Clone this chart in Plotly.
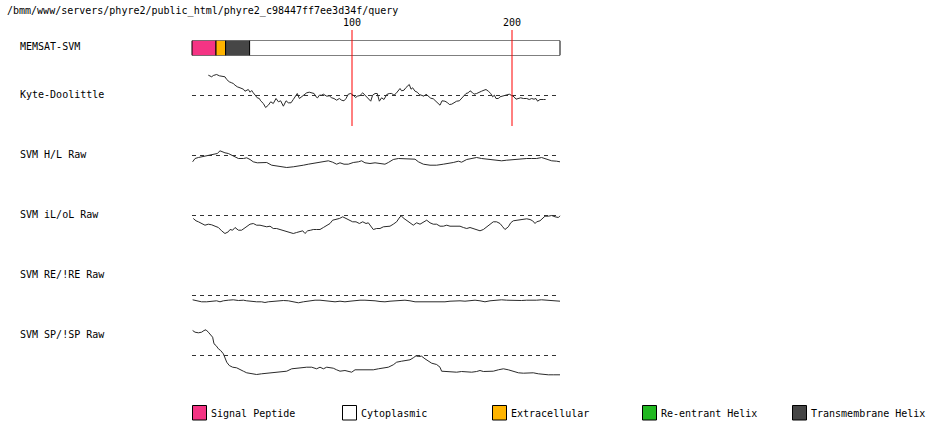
import plotly.graph_objects as go

W, H = 950, 435
SEQ_LEN = 230

title_text = "/bmm/www/servers/phyre2/public_html/phyre2_c98447ff7ee3d34f/query"
track_labels = ["MEMSAT-SVM", "Kyte-Doolittle", "SVM H/L Raw", "SVM iL/oL Raw", "SVM RE/!RE Raw", "SVM SP/!SP Raw"]

# MEMSAT-SVM topology segments (residue start, end, type)
seg_start = [0, 15, 21, 36]
seg_end = [15, 21, 36, 230]
seg_type = ["Signal Peptide", "Extracellular", "Transmembrane Helix", "Cytoplasmic"]

legend_names = ["Signal Peptide", "Cytoplasmic", "Extracellular", "Re-entrant Helix", "Transmembrane Helix"]
type_colors = {
    "Signal Peptide": "#F43484",
    "Cytoplasmic": "#FFFFFF",
    "Extracellular": "#FFB400",
    "Re-entrant Helix": "#22B822",
    "Transmembrane Helix": "#464646",
}

marker_ticks = [100, 200]

# Kyte-Doolittle hydropathy (window averaged)
kd_res = [10.2, 12.3, 13.3, 15.4, 17.1, 19.6, 20.6, 21.7, 23.3, 24.8, 25.8, 26.9, 28.3, 30.0, 32.1, 33.1, 35.2, 36.3, 37.3, 38.3,
          39.4, 40.8, 42.1, 42.9, 44.6, 46.0, 47.7, 49.2, 50.8, 52.5, 54.0, 55.4, 57.1, 58.8, 60.2, 61.9, 63.3, 64.8, 65.8, 67.1,
          68.5, 70.0, 71.7, 73.3, 74.8, 76.3, 77.5, 78.5, 79.6, 81.0, 82.1, 84.2, 85.8, 87.3, 88.75, 90.4, 92.1, 93.5, 95.0, 96.25,
          97.7, 99.2, 100.8, 102.3, 103.3, 105.0, 106.7, 108.1, 109.2, 110.4, 111.7, 112.9, 114.4, 115.8, 117.1, 118.5, 120.0, 121.7, 123.3, 124.8,
          126.25, 127.5, 129.0, 130.0, 131.0, 132.5, 133.75, 135.8, 136.9, 137.9, 139.4, 140.8, 142.1, 143.5, 145.0, 146.25, 147.7, 149.2, 150.8, 152.5,
          154.0, 155.0, 156.25, 158.1, 159.8, 160.8, 162.3, 164.0, 165.4, 167.1, 168.5, 170.0, 171.25, 172.7, 173.75, 175.0, 176.25, 177.9, 179.6, 181.0,
          182.5, 183.75, 185.2, 186.7, 187.9, 189.0, 190.0, 191.5, 192.5, 193.75, 195.0, 196.7, 198.3, 199.8, 201.25, 202.5, 204.0, 205.4, 207.1, 209.2,
          210.8, 212.3, 213.75, 215.0, 216.0, 217.5, 219.6, 221.0]
kd_val = [2.03, 1.87, 2.0, 2.1, 1.97, 1.93, 1.87, 1.6, 1.37, 1.27, 1.2, 1.03, 0.87, 0.77, 0.63, 0.43, 0.6, 0.33, 0.5, 0.27,
          0.03, -0.23, -0.3, -0.53, -0.8, -1.2, -0.97, -0.63, -0.8, -0.3, -0.63, -0.53, -1.07, -0.53, -0.73, -0.73, -0.4, 0.03, 0.2, -0.3,
          -0.13, 0.13, 0.27, 0.33, 0.27, 0.2, -0.13, -0.23, 0.03, 0.03, 0.13, -0.07, -0.03, -0.23, -0.3, -0.47, -0.3, -0.47, -0.53, -0.3,
          0.13, 0.2, 0.03, -0.2, -0.07, 0.0, 0.27, 0.03, -0.13, -0.37, -0.57, 0.03, 0.2, 0.2, -0.57, -0.23, -0.4, 0.1, 0.2, 0.2,
          0.03, 0.2, 0.53, 0.7, 0.47, 0.53, 0.8, 1.1, 0.63, 0.77, 0.43, 0.33, 0.1, 0.03, -0.07, 0.13, -0.03, -0.27, -0.33, -0.57,
          -0.73, -0.97, -0.53, -0.57, -0.73, -0.9, -0.87, -0.73, -0.57, -0.53, -0.3, -0.07, 0.2, 0.27, 0.47, 0.33, 0.13, 0.2, 0.37, 0.43,
          0.53, 0.6, 0.43, 0.2, -0.13, 0.03, -0.3, -0.3, -0.13, -0.07, 0.0, 0.1, 0.13, 0.0, -0.13, -0.37, -0.3, -0.23, -0.3, -0.3,
          -0.4, -0.3, -0.37, -0.3, -0.57, -0.4, -0.4, -0.4]

# SVM H/L raw
hl_res = [0.4, 1.9, 4.0, 6.0, 8.1, 10.2, 12.3, 14.4, 15.8, 17.5, 19.2, 20.6, 22.7, 24.8, 26.9, 29.0, 32.1, 34.2, 36.25, 38.3,
          40.8, 43.5, 46.7, 49.8, 52.9, 56.0, 59.2, 63.3, 66.5, 69.6, 72.7, 75.8, 79.0, 82.1, 85.2, 87.9, 90.4, 92.5, 95.0, 97.7,
          100.8, 104.0, 106.0, 108.1, 111.25, 114.4, 117.5, 120.6, 122.7, 125.8, 129.0, 132.1, 136.25, 139.4, 141.5, 144.6, 148.75, 152.9, 157.1, 160.2,
          163.3, 166.5, 168.5, 171.7, 174.8, 177.9, 181.0, 184.2, 187.3, 190.4, 193.5, 196.7, 200.8, 205.0, 209.2, 212.3, 215.4, 218.5, 220.6, 222.7,
          224.8, 227.9, 230.0]
hl_val = [-0.63, -0.3, -0.2, -0.13, -0.03, 0.03, 0.07, 0.13, 0.2, 0.47, 0.33, 0.27, 0.2, 0.03, -0.07, -0.3, -0.3, -0.23, -0.4, -0.63,
          -0.73, -0.73, -0.7, -0.97, -1.07, -1.13, -1.2, -1.13, -1.07, -0.97, -0.87, -0.8, -0.7, -0.63, -0.53, -0.67, -0.87, -0.73, -0.87, -0.87,
          -0.7, -0.63, -0.53, -0.73, -0.8, -0.73, -0.8, -0.87, -0.7, -0.4, -0.3, -0.3, -0.3, -0.37, -0.63, -0.87, -0.97, -0.97, -0.87, -0.8,
          -0.7, -0.57, -0.67, -0.4, -0.3, -0.2, -0.3, -0.37, -0.47, -0.53, -0.53, -0.47, -0.4, -0.4, -0.3, -0.3, -0.3, -0.2, -0.3, -0.4,
          -0.53, -0.57, -0.63]

# SVM iL/oL raw
io_res = [0.8, 2.5, 4.0, 6.0, 8.1, 10.2, 12.3, 14.4, 16.5, 18.5, 20.6, 22.7, 23.75, 25.4, 26.9, 29.0, 31.0, 32.5, 34.2, 36.25,
          38.3, 40.4, 42.5, 44.6, 46.7, 48.75, 50.8, 52.9, 55.0, 57.1, 59.2, 61.25, 63.3, 65.4, 67.5, 69.2, 70.6, 72.3, 74.2, 75.8,
          77.9, 80.0, 82.1, 84.2, 86.25, 87.9, 90.0, 92.1, 94.2, 96.25, 98.3, 100.4, 102.5, 104.6, 106.7, 108.75, 110.2, 111.7, 113.3, 115.4,
          117.5, 119.6, 121.7, 123.75, 125.8, 127.9, 130.0, 131.0, 132.5, 134.2, 136.25, 138.3, 140.4, 142.5, 144.6, 146.7, 148.75, 150.8, 152.9, 155.0,
          157.1, 159.2, 161.25, 163.3, 165.4, 167.5, 169.6, 171.7, 173.75, 175.8, 177.9, 180.0, 182.1, 184.2, 186.25, 188.3, 190.4, 192.5, 194.2, 195.6,
          197.7, 199.2, 200.8, 202.9, 205.0, 207.1, 209.2, 211.25, 212.9, 214.4, 215.4, 217.5, 219.2, 220.6, 222.7, 224.8, 226.9, 229.0, 230.0]
io_val = [-0.3, -0.53, -0.63, -0.8, -0.97, -0.87, -0.93, -1.07, -1.2, -1.53, -1.8, -1.63, -1.4, -1.47, -1.2, -1.47, -1.47, -1.3, -1.13, -0.87,
          -0.8, -0.97, -0.97, -1.07, -1.13, -1.07, -1.3, -1.3, -1.4, -1.47, -1.53, -1.63, -1.8, -1.7, -1.63, -1.53, -1.8, -1.53, -1.47, -1.4,
          -1.4, -1.4, -1.2, -0.97, -0.8, -0.47, -0.4, -0.3, -0.13, -0.3, -0.47, -0.63, -0.63, -0.8, -0.63, -0.8, -0.73, -1.07, -1.4, -1.3,
          -1.3, -1.13, -1.07, -1.07, -0.87, -0.63, -0.13, -0.07, -0.3, -0.53, -0.73, -0.97, -0.73, -0.87, -0.63, -0.47, -0.73, -0.87, -0.87, -1.07,
          -1.07, -0.97, -1.07, -1.07, -1.13, -1.07, -1.2, -1.3, -1.2, -1.3, -1.4, -1.53, -1.4, -1.13, -0.8, -0.63, -0.63, -0.8, -1.13, -1.4,
          -1.13, -0.73, -0.53, -0.47, -0.4, -0.4, -0.33, -0.4, -0.53, -0.8, -0.63, -0.53, -0.3, -0.07, -0.07, 0.0, -0.13, -0.2, -0.03]

# SVM RE/!RE raw
re_res = [0.4, 2.9, 6.0, 9.2, 12.3, 15.4, 17.5, 19.6, 22.7, 25.8, 29.0, 32.1, 34.2, 37.3, 40.4, 43.5, 45.6, 47.7, 50.8, 54.0,
          57.1, 60.2, 63.3, 66.5, 69.6, 72.7, 74.8, 76.9, 80.0, 83.1, 86.25, 89.4, 92.5, 95.6, 98.75, 101.9, 105.0, 108.1, 111.25, 114.4,
          117.5, 120.6, 123.75, 126.9, 130.0, 133.1, 136.25, 139.4, 142.5, 145.6, 148.75, 151.9, 155.0, 158.1, 161.25, 164.4, 167.5, 170.6, 173.75, 176.9,
          180.0, 183.1, 186.25, 189.4, 191.5, 193.5, 196.7, 199.8, 202.9, 206.0, 209.2, 212.3, 215.4, 218.5, 221.7, 224.8, 227.9, 230.0]
re_val = [-0.43, -0.53, -0.63, -0.63, -0.57, -0.53, -0.63, -0.53, -0.47, -0.43, -0.5, -0.47, -0.53, -0.6, -0.63, -0.63, -0.7, -0.63, -0.57, -0.5,
          -0.5, -0.53, -0.63, -0.73, -0.63, -0.53, -0.5, -0.47, -0.47, -0.53, -0.57, -0.63, -0.57, -0.63, -0.57, -0.5, -0.47, -0.47, -0.47, -0.53,
          -0.6, -0.63, -0.57, -0.53, -0.5, -0.47, -0.53, -0.63, -0.63, -0.63, -0.63, -0.63, -0.7, -0.63, -0.57, -0.53, -0.53, -0.57, -0.5, -0.47,
          -0.53, -0.63, -0.53, -0.47, -0.4, -0.43, -0.47, -0.5, -0.53, -0.5, -0.47, -0.5, -0.47, -0.43, -0.47, -0.5, -0.57, -0.57]

# SVM SP/!SP raw
sp_res = [0.4, 1.9, 4.0, 6.0, 7.5, 8.75, 10.2, 11.7, 12.9, 13.75, 15.0, 16.5, 17.9, 19.6, 20.6, 21.7, 23.3, 25.4, 27.9, 30.0,
          32.1, 34.2, 37.3, 40.4, 43.5, 46.7, 49.8, 52.9, 56.0, 59.2, 62.3, 65.4, 68.5, 71.7, 74.8, 77.9, 80.0, 82.1, 84.2, 86.25,
          88.3, 90.4, 92.5, 95.6, 97.7, 99.8, 101.9, 104.0, 107.1, 110.2, 113.3, 116.5, 119.6, 122.7, 125.8, 127.9, 131.0, 134.2, 136.25, 138.3,
          140.0, 141.5, 143.5, 145.6, 147.7, 149.8, 152.9, 155.0, 156.0, 159.2, 162.3, 165.4, 168.5, 171.7, 174.8, 177.9, 180.0, 182.1, 185.2, 188.3,
          191.5, 194.6, 197.7, 200.8, 204.0, 207.1, 210.2, 213.3, 216.5, 219.6, 222.7, 225.8, 230.0]
sp_val = [2.5, 2.33, 2.27, 2.33, 2.5, 2.57, 2.33, 2.1, 1.83, 1.17, 1.0, 0.67, 0.5, 0.17, -0.17, -0.67, -1.0, -1.17, -1.23, -1.43,
          -1.57, -1.73, -1.83, -1.9, -1.83, -1.77, -1.73, -1.67, -1.67, -1.57, -1.33, -1.27, -1.23, -1.17, -1.17, -1.33, -1.17, -1.33, -1.17, -1.23,
          -1.27, -1.43, -1.57, -1.5, -1.57, -1.67, -1.43, -1.43, -1.4, -1.43, -1.43, -1.33, -1.23, -1.17, -0.93, -0.67, -0.57, -0.5, -0.43, -0.23,
          -0.03, -0.1, -0.07, -0.33, -0.57, -0.77, -0.9, -1.17, -1.57, -1.6, -1.67, -1.67, -1.6, -1.67, -1.67, -1.6, -1.5, -1.6, -1.57, -1.57,
          -1.43, -1.33, -1.43, -1.57, -1.73, -1.77, -1.77, -1.73, -1.83, -1.9, -1.93, -1.93, -1.93]

# ---------------- layout helpers (pixel -> paper) ----------------
X0_PX, PX_PER_RES = 192.0, 1.6


def px(x):
    return x / W


def py(y):
    return 1 - y / H


def dom(top, bottom):
    return [1 - bottom / H, 1 - top / H]


FONT = "DejaVu Sans Mono, Liberation Mono, monospace"
TXT = dict(family=FONT, size=10, color="black")
LINE_COLOR = "#2a2a2a"

fig = go.Figure()

# MEMSAT-SVM bar
for s, e, t in zip(seg_start, seg_end, seg_type):
    fig.add_trace(go.Bar(
        x=[e - s], base=[s], y=[0], orientation="h", width=1,
        marker=dict(color=type_colors[t], line=dict(color="black", width=1)),
        xaxis="x", yaxis="y", showlegend=False, hoverinfo="skip"))

# tracks: (res, val, axis, baseline pixel)
tracks = [
    (kd_res, kd_val, "y2", 95.5),
    (hl_res, hl_val, "y3", 155.5),
    (io_res, io_val, "y4", 215.5),
    (re_res, re_val, "y5", 295.5),
    (sp_res, sp_val, "y6", 355.5),
]
for res, val, ax, base in tracks:
    fig.add_trace(go.Scatter(
        x=[0, SEQ_LEN], y=[0, 0], mode="lines", xaxis="x", yaxis=ax,
        line=dict(color="#333333", width=1, dash="4px,4px"),
        showlegend=False, hoverinfo="skip"))
    fig.add_trace(go.Scatter(
        x=res, y=val, mode="lines", xaxis="x", yaxis=ax,
        line=dict(color=LINE_COLOR, width=1),
        showlegend=False, hoverinfo="skip"))

x_left = -X0_PX / PX_PER_RES
x_right = (W - X0_PX) / PX_PER_RES

layout = dict(
    width=W, height=H,
    margin=dict(l=0, r=0, t=0, b=0),
    paper_bgcolor="white", plot_bgcolor="white",
    barmode="overlay",
    font=TXT,
    xaxis=dict(range=[x_left, x_right], visible=False, fixedrange=True, domain=[0, 1]),
    yaxis=dict(range=[-0.5, 0.5], domain=dom(40.5, 55.5), visible=False, fixedrange=True, anchor="x"),
)
for i, (res, val, ax, base) in enumerate(tracks):
    key = "yaxis" + ax[1:]
    layout[key] = dict(range=[-3, 3], domain=dom(base - 30, base + 30), visible=False,
                       fixedrange=True, anchor="x")
fig.update_layout(**layout)

shapes = []
annotations = []

# red residue markers
for t in marker_ticks:
    shapes.append(dict(type="line", xref="x", yref="paper", x0=t, x1=t, y0=py(30), y1=py(126),
                       line=dict(color="red", width=1)))
    annotations.append(dict(text=str(t), xref="x", yref="paper", x=t, y=py(23),
                            showarrow=False, xanchor="center", yanchor="middle", font=TXT))

# title
annotations.append(dict(text=title_text, xref="paper", yref="paper", x=px(5), y=py(11),
                        showarrow=False, xanchor="left", yanchor="middle", font=TXT))

# track labels
label_y = [47, 94, 154, 214, 274, 334]
for lab, ly in zip(track_labels, label_y):
    annotations.append(dict(text=lab, xref="paper", yref="paper", x=px(18), y=py(ly),
                            showarrow=False, xanchor="left", yanchor="middle", font=TXT))

# legend
for i, name in enumerate(legend_names):
    x0 = 192.5 + 150 * i
    shapes.append(dict(type="rect", xref="paper", yref="paper", x0=px(x0), x1=px(x0 + 14),
                       y0=py(420), y1=py(405.5), fillcolor=type_colors[name],
                       line=dict(color="black", width=1)))
    annotations.append(dict(text=name, xref="paper", yref="paper", x=px(x0 + 16.5), y=py(413),
                            showarrow=False, xanchor="left", yanchor="middle", font=TXT))

fig.update_layout(shapes=shapes, annotations=annotations)
fig.write_html("out.html", config={"displayModeBar": False},
               post_script="document.body.style.margin='0';document.body.style.overflow='hidden';")
